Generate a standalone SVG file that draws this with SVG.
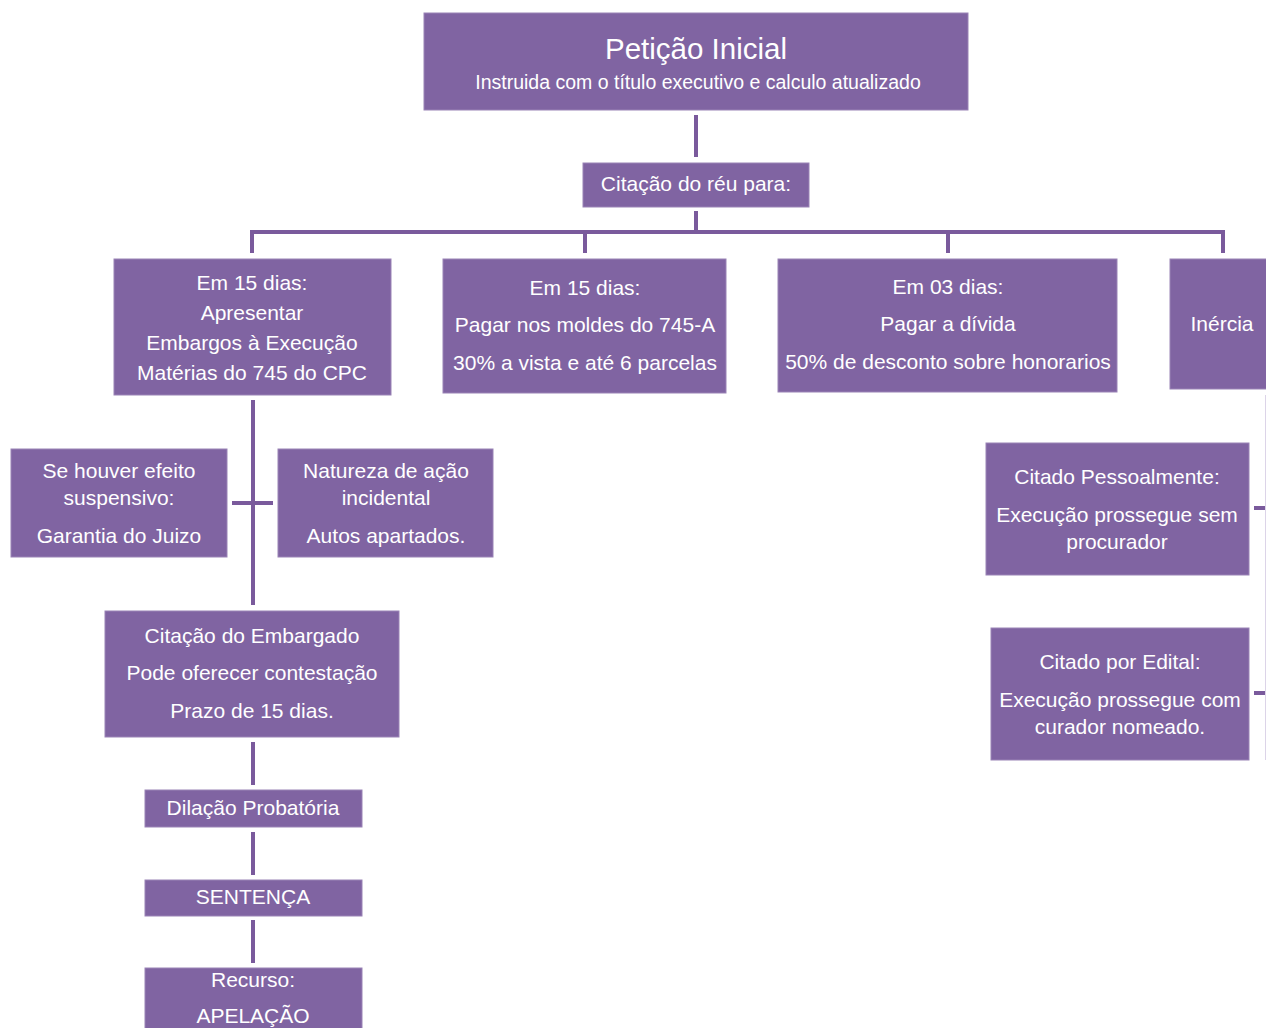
<svg xmlns="http://www.w3.org/2000/svg" width="1266" height="1028" viewBox="0 0 1266 1028">
<style>
.box{fill:#8064A2;stroke:#9a83b6;stroke-width:1}
.t{font-family:"Liberation Sans",Arial,sans-serif;fill:#ffffff;text-anchor:middle;font-size:21px}
.c{stroke:#7A5A9C;stroke-width:4;fill:none}
</style>
<rect width="1266" height="1028" fill="#ffffff"/>
<g id="connectors">
<path class="c" d="M696 115V157M696 211V232M252 232H1224M252 230V253M585 230V253M948 230V253M1223 230V253"/>
<path class="c" d="M253 400V605M232 503H273"/>
<path class="c" d="M253 742V785M253 832V875M253 920V963"/>
<path class="c" d="M1254 508H1266M1254 693H1266"/>
<path d="M1265.5 395V760" stroke="#dcd4e8" stroke-width="1"/>
</g>
<g id="peticao"><rect class="box" x="424" y="13" width="544" height="97"/>
<text class="t" x="696" y="59" style="font-size:29.5px">Petição Inicial</text>
<text class="t" x="698" y="89" style="font-size:19.5px">Instruida com o título executivo e calculo atualizado</text></g>
<g id="citacao"><rect class="box" x="583" y="163" width="226" height="44"/>
<text class="t" x="696" y="191">Citação do réu para:</text></g>
<g id="embargos"><rect class="box" x="114" y="259" width="277" height="136"/>
<text class="t" x="252" y="290">Em 15 dias:</text>
<text class="t" x="252" y="320">Apresentar</text>
<text class="t" x="252" y="350">Embargos à Execução</text>
<text class="t" x="252" y="380">Matérias do 745 do CPC</text></g>
<g id="pagar745"><rect class="box" x="443" y="259" width="283" height="134"/>
<text class="t" x="585" y="295">Em 15 dias:</text>
<text class="t" x="585" y="332">Pagar nos moldes do 745-A</text>
<text class="t" x="585" y="370">30% a vista e até 6 parcelas</text></g>
<g id="pagar3"><rect class="box" x="778" y="259" width="339" height="133"/>
<text class="t" x="948" y="294">Em 03 dias:</text>
<text class="t" x="948" y="331">Pagar a dívida</text>
<text class="t" x="948" y="369">50% de desconto sobre honorarios</text></g>
<g id="inercia"><rect class="box" x="1170" y="259" width="100" height="130"/>
<text class="t" x="1222" y="331">Inércia</text></g>
<g id="suspensivo"><rect class="box" x="11" y="449" width="216" height="108"/>
<text class="t" x="119" y="478">Se houver efeito</text>
<text class="t" x="119" y="505">suspensivo:</text>
<text class="t" x="119" y="543">Garantia do Juizo</text></g>
<g id="natureza"><rect class="box" x="278" y="449" width="215" height="108"/>
<text class="t" x="386" y="478">Natureza de ação</text>
<text class="t" x="386" y="505">incidental</text>
<text class="t" x="386" y="543">Autos apartados.</text></g>
<g id="embargado"><rect class="box" x="105" y="611" width="294" height="126"/>
<text class="t" x="252" y="643">Citação do Embargado</text>
<text class="t" x="252" y="680">Pode oferecer contestação</text>
<text class="t" x="252" y="718">Prazo de 15 dias.</text></g>
<g id="dilacao"><rect class="box" x="145" y="790" width="217" height="37"/>
<text class="t" x="253" y="815">Dilação Probatória</text></g>
<g id="sentenca"><rect class="box" x="145" y="880" width="217" height="36"/>
<text class="t" x="253" y="904">SENTENÇA</text></g>
<g id="recurso"><rect class="box" x="145" y="968" width="217" height="70"/>
<text class="t" x="253" y="987">Recurso:</text>
<text class="t" x="253" y="1023">APELAÇÃO</text></g>
<g id="pessoalmente"><rect class="box" x="986" y="443" width="263" height="132"/>
<text class="t" x="1117" y="484">Citado Pessoalmente:</text>
<text class="t" x="1117" y="522">Execução prossegue sem</text>
<text class="t" x="1117" y="549">procurador</text></g>
<g id="edital"><rect class="box" x="991" y="628" width="258" height="132"/>
<text class="t" x="1120" y="669">Citado por Edital:</text>
<text class="t" x="1120" y="707">Execução prossegue com</text>
<text class="t" x="1120" y="734">curador nomeado.</text></g>
</svg>
